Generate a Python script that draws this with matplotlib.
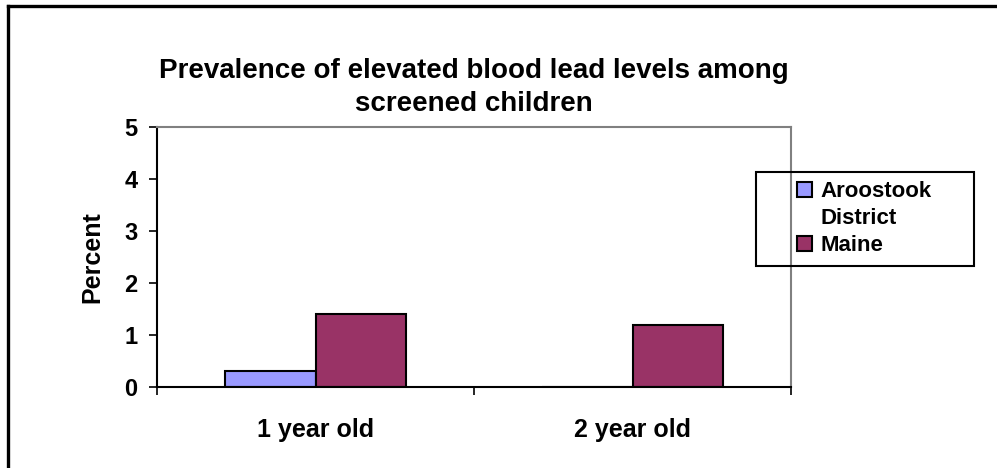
import numpy as np
import matplotlib
matplotlib.use("Agg")
import matplotlib.pyplot as plt
import matplotlib.patches as mpatches
from matplotlib.lines import Line2D

categories = ["1 year old", "2 year old"]
aroostook = [0.3, 0.0]
maine = [1.4, 1.2]
title = "Prevalence of elevated blood lead levels among\nscreened children"

plt.rcParams['font.family'] = ['Liberation Sans', 'DejaVu Sans']
plt.rcParams['font.weight'] = 'bold'

W, H = 997, 468
fig = plt.figure(figsize=(W / 100, H / 100), dpi=100)
ax = fig.add_axes([157 / W, 1 - 387 / H, (791 - 157) / W, (387 - 127) / H])

x = np.arange(len(categories))
bw = 1 / 3.5
ax.bar(x - bw / 2, aroostook, bw, color='#9999FF', edgecolor='black', linewidth=1.5)
ax.bar(x + bw / 2, maine, bw, color='#993366', edgecolor='black', linewidth=1.5)

ax.set_xlim(-0.5, len(categories) - 0.5)
ax.set_ylim(0, 5)
ax.set_yticks(np.arange(0, 6, 1))
ax.tick_params(axis='y', direction='out', length=6, width=1.2, labelsize=17, pad=8)
for lab in ax.get_yticklabels():
    lab.set_fontweight('bold')
ax.set_xticks(x)
ax.set_xticklabels(categories, fontsize=18, fontweight='bold')
ax.tick_params(axis='x', which='major', length=0, pad=22)
ax.set_xticks(np.arange(-0.5, len(categories), 1), minor=True)
ax.tick_params(axis='x', which='minor', direction='out', length=6, width=1.2)
ax.set_ylabel("Percent", fontsize=18, fontweight='bold', labelpad=14)

ax.spines['left'].set_linewidth(1.5)
ax.spines['bottom'].set_linewidth(1.5)
for s in ['top', 'right']:
    ax.spines[s].set_color('#808080')
    ax.spines[s].set_linewidth(1.5)

cx = (157 + 791) / 2 / W
lines = title.split("\n")
fig.text(cx, 1 - 71 / H, lines[0], ha='center', va='center', fontsize=20, fontweight='bold')
fig.text(cx, 1 - 104 / H, lines[1], ha='center', va='center', fontsize=20, fontweight='bold')

# legend: second word of the first name wraps onto its own line
h1 = mpatches.Patch(facecolor='#9999FF', edgecolor='black', linewidth=1.5)
h_blank = mpatches.Patch(facecolor='none', edgecolor='none')
h2 = mpatches.Patch(facecolor='#993366', edgecolor='black', linewidth=1.5)
fig.legend([h1, h_blank, h2], ["Aroostook", "District", "Maine"],
           loc='upper left', bbox_to_anchor=(797 / W, 1 - 181 / H),
           frameon=False, prop={'size': 16, 'weight': 'bold'},
           handlelength=0.68, handleheight=0.68, handletextpad=0.36,
           labelspacing=0.28, borderpad=0, borderaxespad=0)
fig.add_artist(mpatches.Rectangle((756 / W, 1 - 266 / H), (974 - 756) / W, (266 - 172) / H,
                                  transform=fig.transFigure, facecolor='none',
                                  edgecolor='black', linewidth=1.5))

# outer chart border (right and bottom edges fall outside the picture)
fig.add_artist(Line2D([8 / W, 8 / W], [0, 1 - 6 / H], transform=fig.transFigure, color='black', linewidth=2.4))
fig.add_artist(Line2D([8 / W, 1], [1 - 6 / H, 1 - 6 / H], transform=fig.transFigure, color='black', linewidth=2.4))

fig.savefig("out.png", dpi=100)
